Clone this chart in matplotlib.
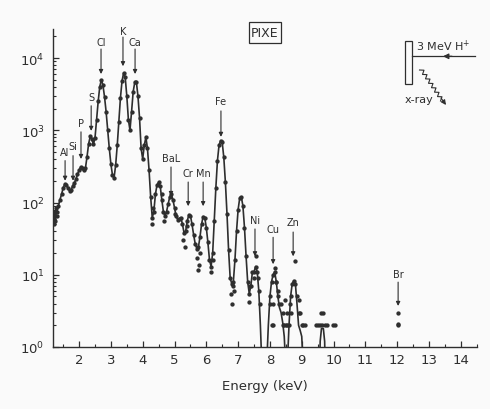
import numpy as np
import matplotlib
matplotlib.use("Agg")
import matplotlib.pyplot as plt
from matplotlib.patches import Rectangle

plt.rcParams['font.family'] = ['Liberation Sans Narrow', 'DejaVu Sans']
plt.rcParams['mathtext.fontset'] = 'custom'
plt.rcParams['mathtext.rm'] = 'Liberation Sans Narrow'
plt.rcParams['mathtext.it'] = 'Liberation Sans Narrow'

INK = '#2e2e2e'

# |====| data
# fitted curve (energy in keV, counts)
fit_e = [1.20, 1.25, 1.30, 1.35, 1.40, 1.45, 1.50, 1.55, 1.60, 1.65, 1.70, 1.75,
         1.80, 1.85, 1.90, 1.95, 2.00, 2.05, 2.10, 2.15, 2.20, 2.25, 2.30, 2.35,
         2.40, 2.45, 2.50, 2.55, 2.60, 2.65, 2.70, 2.75, 2.80, 2.85, 2.90, 2.95,
         3.00, 3.05, 3.10, 3.15, 3.20, 3.25, 3.30, 3.35, 3.40, 3.45, 3.50, 3.55,
         3.60, 3.65, 3.70, 3.75, 3.80, 3.85, 3.90, 3.95, 4.00, 4.05, 4.10, 4.15,
         4.20, 4.25, 4.30, 4.35, 4.40, 4.45, 4.50, 4.55, 4.60, 4.65, 4.70, 4.75,
         4.80, 4.85, 4.90, 4.95, 5.00, 5.05, 5.10, 5.15, 5.20, 5.25, 5.30, 5.35,
         5.40, 5.45, 5.50, 5.55, 5.60, 5.65, 5.70, 5.75, 5.80, 5.85, 5.90, 5.95,
         6.00, 6.05, 6.10, 6.15, 6.20, 6.25, 6.30, 6.35, 6.40, 6.45, 6.50, 6.55,
         6.60, 6.65, 6.70, 6.75, 6.80, 6.85, 6.90, 6.95, 7.00, 7.05, 7.10, 7.15,
         7.20, 7.25, 7.30, 7.35, 7.40, 7.45, 7.50, 7.55, 7.60, 7.65, 7.70, 7.75,
         7.80, 7.85, 7.90, 7.95, 8.00, 8.05, 8.10, 8.15, 8.20, 8.25, 8.30, 8.35,
         8.40, 8.45, 8.50, 8.55, 8.60, 8.65, 8.70, 8.75, 8.80, 8.85, 8.90, 8.95,
         9.00, 9.05, 9.10, 9.30, 9.55, 9.58, 9.62, 9.68, 9.72, 9.75]
fit_c = [60, 65, 75, 90, 110, 130, 160, 180, 175, 160, 145, 150,
         170, 185, 210, 245, 280, 310, 300, 280, 300, 430, 650, 820,
         760, 640, 780, 1400, 2500, 4000, 5000, 4200, 2900, 1800, 1000, 560,
         340, 240, 220, 330, 620, 1300, 2800, 4800, 6200, 5400, 3000, 1400,
         1000, 1800, 3400, 4600, 4700, 3000, 1500, 560, 400, 620, 800, 560,
         280, 120, 62, 75, 130, 175, 190, 170, 110, 75, 65, 75,
         95, 120, 130, 110, 85, 65, 58, 60, 62, 50, 38, 40,
         55, 68, 66, 50, 36, 27, 23, 24, 33, 50, 64, 62,
         45, 28, 16, 13, 20, 55, 160, 380, 620, 720, 680, 420,
         190, 70, 22, 9, 7.5, 8, 16, 40, 80, 115, 120, 90,
         45, 18, 8, 5.5, 7, 11, 11, 13, 11, 6, 2, 0.5,
         0.3, 0.3, 0.6, 2, 5, 8, 10, 11, 8, 5, 3.5, 3,
         2.2, 1.4, 0.5, 0.6, 2, 5, 7.5, 8.3, 7.5, 4, 2, 1.7,
         1.4, 0.5, 0.3, 0.3, 0.3, 1.2, 1.8, 1.8, 1.2, 0.3]

# scattered measured points off the curve (low-count channels)
pts_e = [1.20, 1.22, 1.25, 1.28, 1.32, 4.30, 4.32, 4.62, 4.68, 5.02, 5.28, 5.32,
         5.38, 5.70, 5.73, 5.76, 5.80, 6.15, 6.20, 6.78, 6.80, 6.83, 6.86, 7.33,
         7.38, 7.50, 7.55, 7.62, 7.68, 8.00, 8.05, 8.10, 8.10, 8.15, 8.20, 8.25,
         8.30, 8.35, 8.40, 8.42, 8.45, 8.48, 8.50, 8.53, 8.55, 8.60, 8.62, 8.65,
         8.78, 8.85, 8.90, 8.92, 8.95, 9.00, 9.05, 9.10, 9.45, 9.52, 9.58, 9.62,
         9.65, 9.68, 9.72, 9.78, 9.98, 10.05, 12.02, 12.02, 12.02]
pts_c = [50, 75, 55, 85, 65, 50, 85, 130, 55, 70, 30, 24,
         48, 17, 11.5, 13.5, 20, 11, 16, 5.5, 4, 7, 6, 4.2,
         7, 9, 18, 9, 4, 4, 2, 2, 4, 12.5, 8, 6,
         4, 4, 2, 3, 2, 4.5, 2, 3, 2, 2, 4, 3,
         15.5, 5, 4.5, 3, 3, 2, 2, 2, 2, 2, 2, 3,
         2, 3, 2, 2, 2, 2, 2, 2.1, 3]

# element labels: name, energy, label height, arrow top, arrow tip (counts)
elements = ["Al", "Si", "P", "S", "Cl", "K", "Ca", "BaL", "Cr", "Mn", "Fe", "Ni", "Cu", "Zn", "Br"]
elem_e = [1.56, 1.81, 2.06, 2.38, 2.69, 3.38, 3.76, 4.89, 5.43, 5.90, 6.46, 7.53, 8.10, 8.73, 12.03]
label_c = [500, 605, 1260, 2890, 16600, 23600, 16600, 415, 256, 256, 2530, 57, 43, 54, 10.2]
arrow_top = [380, 445, 950, 2180, 13300, 19500, 13300, 310, 192, 192, 1850, 43, 33, 39, 7.9]
arrow_tip = [200, 200, 400, 980, 6000, 7700, 6000, 123, 89, 89, 810, 18, 14, 18, 3.7]

xticks = list(range(2, 15))
yticks = [1, 10, 100, 1000, 10000]
ytick_labels = ['10$^0$', '10$^1$', '10$^2$', '10$^3$', '10$^4$']

# |====| plot section
fig = plt.figure(figsize=(4.9, 4.1), dpi=100, facecolor='#fafafa')
ax = fig.add_axes([53/490, 62/410, 424/490, 318/410])
ax.set_facecolor('none')

fit_e = np.array(fit_e); fit_c = np.array(fit_c)
ax.plot(fit_e, fit_c, color=INK, lw=1.2, solid_joinstyle='round')
on_curve = fit_c >= 5
ax.plot(fit_e[on_curve], fit_c[on_curve], ls='none', marker='o', ms=2.1, color=INK)
ax.plot(pts_e, pts_c, ls='none', marker='o', ms=2.1, color=INK)

ax.set_yscale('log')
ax.set_xlim(1.18, 14.51)
ax.set_ylim(1, 25200)

ax.set_xticks(xticks)
ax.set_xticks(np.arange(1.5, 14.6, 1.0), minor=True)
ax.set_yticks(yticks)
ax.set_yticklabels(ytick_labels)
ax.tick_params(which='major', direction='in', length=4, width=0.9, labelsize=9.5, colors=INK, pad=4)
ax.tick_params(which='minor', direction='in', length=2.5, width=0.8, colors=INK)
ax.tick_params(axis='y', which='major', pad=6)
for side in ['top', 'right']:
    ax.spines[side].set_visible(False)
for side in ['left', 'bottom']:
    ax.spines[side].set_linewidth(1.0)
    ax.spines[side].set_color(INK)
ax.set_xlabel('Energy (keV)', fontsize=9.5, color=INK, labelpad=10)

for name, e, lc, at, tip in zip(elements, elem_e, label_c, arrow_top, arrow_tip):
    ax.text(e, lc, name, ha='center', va='center', fontsize=7, color=INK)
    ax.annotate('', xy=(e, tip), xytext=(e, at),
                arrowprops=dict(arrowstyle='-|>', lw=0.8, color=INK, mutation_scale=6,
                                shrinkA=0, shrinkB=0))

# overlay in pixel coords for the PIXE box and the set-up sketch
ov = fig.add_axes([0, 0, 1, 1])
ov.set_xlim(0, 490)
ov.set_ylim(410, 0)
ov.axis('off')
ov.set_facecolor('none')

ov.text(265, 33.5, 'PIXE', ha='center', va='center', fontsize=9, color=INK)
ov.add_patch(Rectangle((249, 23), 32, 21, fill=False, lw=0.9, ec=INK))

ov.add_patch(Rectangle((405, 42), 7, 43, fill=False, lw=0.9, ec=INK))
ov.plot([412, 475], [57.3, 57.3], color=INK, lw=0.9)
ov.annotate('', xy=(443, 57.3), xytext=(452, 57.3),
            arrowprops=dict(arrowstyle='-|>', lw=0.9, color=INK, mutation_scale=8,
                            shrinkA=0, shrinkB=0))
ov.text(443, 46.5, '3 MeV H$^{+}$', ha='center', va='center', fontsize=8, color=INK)

# wavy x-ray path
t = np.linspace(0, 1, 15)
x0, y0, x1, y1 = 421, 70, 442, 101
dx, dy = x1 - x0, y1 - y0
ln = np.hypot(dx, dy)
px, py = -dy / ln, dx / ln
wig = np.where(np.arange(len(t)) % 2 == 0, 1.8, -1.8)
ov.plot(x0 + dx * t + px * wig, y0 + dy * t + py * wig, color=INK, lw=0.8)
ov.annotate('', xy=(446, 106), xytext=(441, 99),
            arrowprops=dict(arrowstyle='-|>', lw=0.8, color=INK, mutation_scale=7,
                            shrinkA=0, shrinkB=0))
ov.text(419, 100, 'x-ray', ha='center', va='center', fontsize=8, color=INK)

fig.savefig('out.png', dpi=100, facecolor=fig.get_facecolor())
